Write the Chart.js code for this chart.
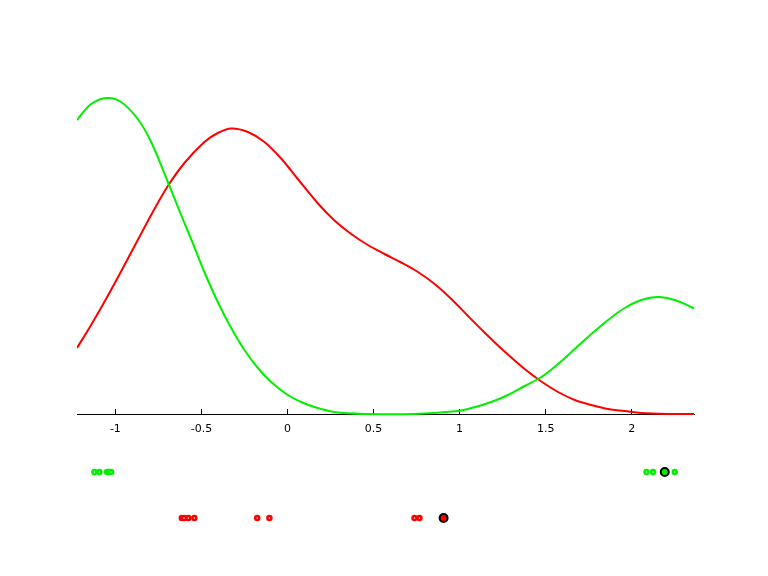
<!DOCTYPE html>
<html>
<head>
<meta charset="utf-8">
<script src="https://cdn.jsdelivr.net/npm/chart.js@4/dist/chart.umd.min.js"></script>
<style>
  html, body { margin: 0; padding: 0; background: #fff; }
  #wrap { width: 768px; height: 576px; }
</style>
</head>
<body>
<div id="wrap"><canvas id="kde-chart" width="768" height="576"></canvas></div>
<script>
// density curves
var greenX = [-1.223, -1.141, -1.048, -0.967, -0.870, -0.792, -0.695, -0.618, -0.560, -0.483, -0.405, -0.327, -0.250, -0.172, -0.095, 0.002, 0.080, 0.138, 0.272, 0.467, 0.737, 0.992, 1.048, 1.184, 1.281, 1.378, 1.475, 1.572, 1.669, 1.766, 1.863, 1.959, 2.056, 2.153, 2.250, 2.347, 2.362];
var greenY = [2.94, 3.10, 3.16, 3.12, 2.95, 2.72, 2.32, 1.99, 1.75, 1.42, 1.12, 0.86, 0.64, 0.46, 0.32, 0.19, 0.12, 0.08, 0.02, 0.00, 0.00, 0.03, 0.05, 0.12, 0.19, 0.28, 0.37, 0.50, 0.65, 0.80, 0.94, 1.06, 1.14, 1.17, 1.14, 1.07, 1.05];

var redX = [-1.223, -1.141, -1.064, -0.967, -0.870, -0.773, -0.695, -0.599, -0.483, -0.405, -0.327, -0.230, -0.134, -0.037, 0.060, 0.177, 0.273, 0.370, 0.467, 0.564, 0.661, 0.758, 0.855, 0.952, 1.049, 1.145, 1.242, 1.378, 1.475, 1.572, 1.669, 1.766, 1.863, 1.959, 2.056, 2.200, 2.362];
var redY = [0.66, 0.89, 1.12, 1.425, 1.74, 2.05, 2.28, 2.51, 2.72, 2.81, 2.855, 2.82, 2.72, 2.555, 2.35, 2.105, 1.935, 1.80, 1.69, 1.60, 1.515, 1.42, 1.30, 1.15, 0.98, 0.815, 0.655, 0.45, 0.325, 0.22, 0.14, 0.09, 0.05, 0.03, 0.01, 0.00, 0.00];

// rug samples under the axis
var greenRug = [-1.122, -1.093, -1.048, -1.036, -1.025, 2.086, 2.124, 2.250];
var greenMark = [2.192];
var redRug = [-0.614, -0.601, -0.576, -0.541, -0.176, -0.105, 0.738, 0.767];
var redMark = [0.907];

var greenRow = -0.58;
var redRow = -1.04;

var xTicks = [-1, -0.5, 0, 0.5, 1, 1.5, 2];

function pts(xs, ys) {
    return xs.map(function (x, i) { return { x: x, y: ys[i] }; });
}
function row(xs, y) {
    return xs.map(function (x) { return { x: x, y: y }; });
}

var ctx = document.getElementById("kde-chart").getContext("2d");
var chart = new Chart(ctx, {
    type: "line",
    data: {
        datasets: [{
            data: pts(greenX, greenY),
            borderColor: "#00f000",
            borderWidth: 2,
            pointRadius: 0,
            tension: 0.35,
            order: 2
        }, {
            data: pts(redX, redY),
            borderColor: "#ff0000",
            borderWidth: 2,
            pointRadius: 0,
            tension: 0.35,
            order: 3
        }, {
            type: "scatter",
            data: row(greenRug, greenRow),
            pointRadius: 2,
            pointBorderWidth: 2.5,
            pointBorderColor: "#00f000",
            pointBackgroundColor: "#ffffff",
            order: 1
        }, {
            type: "scatter",
            data: row(greenMark, greenRow),
            pointRadius: 4,
            pointBorderWidth: 2,
            pointBorderColor: "#000000",
            pointBackgroundColor: "#00f000",
            order: 0
        }, {
            type: "scatter",
            data: row(redRug, redRow),
            pointRadius: 2,
            pointBorderWidth: 2.5,
            pointBorderColor: "#ff0000",
            pointBackgroundColor: "#ffffff",
            order: 1
        }, {
            type: "scatter",
            data: row(redMark, redRow),
            pointRadius: 4,
            pointBorderWidth: 2,
            pointBorderColor: "#000000",
            pointBackgroundColor: "#ff0000",
            order: 0
        }]
    },
    options: {
        responsive: false,
        animation: false,
        layout: { padding: { left: 77, right: 74, top: 14, bottom: 12 } },
        plugins: { legend: { display: false }, tooltip: { enabled: false } },
        scales: {
            x: {
                type: "linear",
                min: -1.223,
                max: 2.362,
                position: { y: 0 },
                afterBuildTicks: function (axis) {
                    axis.ticks = xTicks.map(function (v) { return { value: v }; });
                },
                ticks: {
                    color: "#000",
                    padding: 15,
                    font: { family: "DejaVu Sans", size: 11 },
                    maxRotation: 0,
                    callback: function (value) { return String(value); }
                },
                grid: {
                    drawOnChartArea: false,
                    drawTicks: true,
                    tickLength: -6,
                    tickColor: "#000"
                },
                border: { display: true, color: "#000", width: 1 }
            },
            y: {
                display: false,
                min: -1.5,
                max: 4.0
            }
        }
    }
});
</script>
</body>
</html>
